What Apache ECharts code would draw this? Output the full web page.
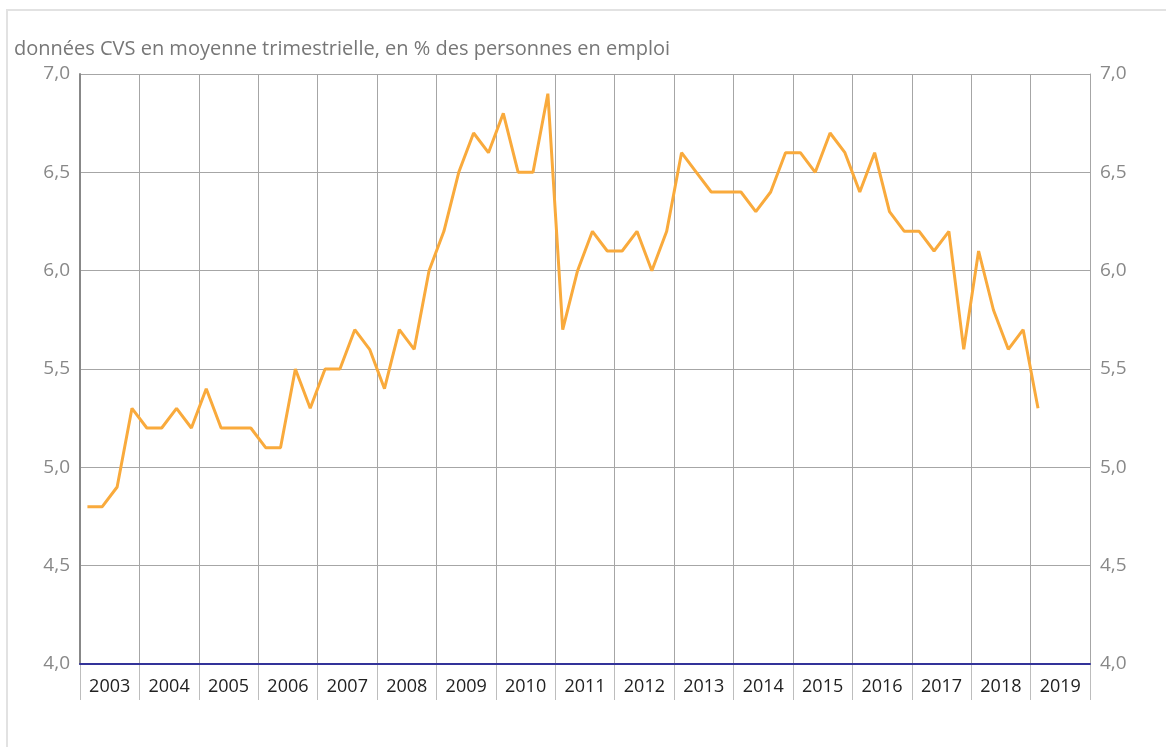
<!DOCTYPE html>
<html>
<head>
<meta charset="utf-8">
<script src="https://cdn.jsdelivr.net/npm/echarts@6/dist/echarts.min.js"></script>
<style>
html,body{margin:0;padding:0;background:#fff;}
#chart{width:1166px;height:747px;}
</style>
</head>
<body>
<div id="chart"></div>
<script>
var years = ['2003','2004','2005','2006','2007','2008','2009','2010','2011','2012','2013','2014','2015','2016','2017','2018','2019'];
var quarters = ['T1','T2','T3','T4'];
var values = [
  4.8,4.8,4.9,5.3,
  5.2,5.2,5.3,5.2,
  5.4,5.2,5.2,5.2,
  5.1,5.1,5.5,5.3,
  5.5,5.5,5.7,5.6,
  5.4,5.7,5.6,6.0,
  6.2,6.5,6.7,6.6,
  6.8,6.5,6.5,6.9,
  5.7,6.0,6.2,6.1,
  6.1,6.2,6.0,6.2,
  6.6,6.5,6.4,6.4,
  6.4,6.3,6.4,6.6,
  6.6,6.5,6.7,6.6,
  6.4,6.6,6.3,6.2,
  6.2,6.1,6.2,5.6,
  6.1,5.8,5.6,5.7,
  5.3
];
var yTicks = {min:4, max:7, interval:0.5};
var titleText = 'données CVS en moyenne trimestrielle, en % des personnes en emploi';

var cats = [];
years.forEach(function(y){ quarters.forEach(function(q){ cats.push(y + q); }); });
var seriesData = cats.map(function(c, i){ return i < values.length ? values[i] : null; });

var FONT = '"Open Sans", "Noto Sans", sans-serif';
var fmt = function(v){ return v.toFixed(1).replace('.', ','); };

var chart = echarts.init(document.getElementById('chart'), null, {renderer:'canvas'});
chart.setOption({
  animation:false,
  backgroundColor:'#fff',
  textStyle:{fontFamily:FONT},
  graphic:[{
    type:'rect', silent:true, z:-10,
    shape:{x:7, y:10, width:1200, height:800},
    style:{fill:'none', stroke:'#e2e2e2', lineWidth:2}
  }],
  title:{
    text:titleText, left:9, top:34,
    textStyle:{fontFamily:FONT, fontSize:20, fontWeight:'normal', color:'#777'}
  },
  grid:{left:80, right:76, top:74, bottom:83, containLabel:false},
  xAxis:[{
    type:'category', data:cats, boundaryGap:true, position:'bottom',
    axisLine:{show:true, onZero:false, lineStyle:{color:'#333399', width:2}},
    axisTick:{show:false}, axisLabel:{show:false},
    splitLine:{show:true, interval:function(i){ return i % 4 === 0 && i > 0; }, lineStyle:{color:'#a6a6a6', width:1}},
    z:8
  },{
    type:'category', data:years, boundaryGap:true, position:'bottom',
    axisLine:{show:false},
    axisTick:{show:true, interval:0, length:36, lineStyle:{color:'#bdbdbd', width:1}},
    axisLabel:{show:true, interval:0, margin:14, color:'#222', fontSize:18, fontFamily:FONT},
    splitLine:{show:false}
  }],
  yAxis:[{
    type:'value', position:'left', min:yTicks.min, max:yTicks.max, interval:yTicks.interval,
    axisLine:{show:true, lineStyle:{color:'#888', width:2}},
    axisTick:{show:false},
    axisLabel:{formatter:fmt, color:'#888', fontSize:19, margin:10, fontFamily:FONT},
    splitLine:{show:true, lineStyle:{color:'#a6a6a6', width:1}},
    z:6
  },{
    type:'value', position:'right', min:yTicks.min, max:yTicks.max, interval:yTicks.interval,
    axisLine:{show:true, lineStyle:{color:'#a0a0a0', width:1}},
    axisTick:{show:false},
    axisLabel:{formatter:fmt, color:'#888', fontSize:19, margin:10, fontFamily:FONT},
    splitLine:{show:false},
    z:6
  }],
  series:[{
    type:'line', xAxisIndex:0, yAxisIndex:0, data:seriesData,
    showSymbol:false, symbol:'none', connectNulls:false,
    lineStyle:{color:'#F9AA3C', width:3}, z:10
  }]
});
</script>
</body>
</html>
